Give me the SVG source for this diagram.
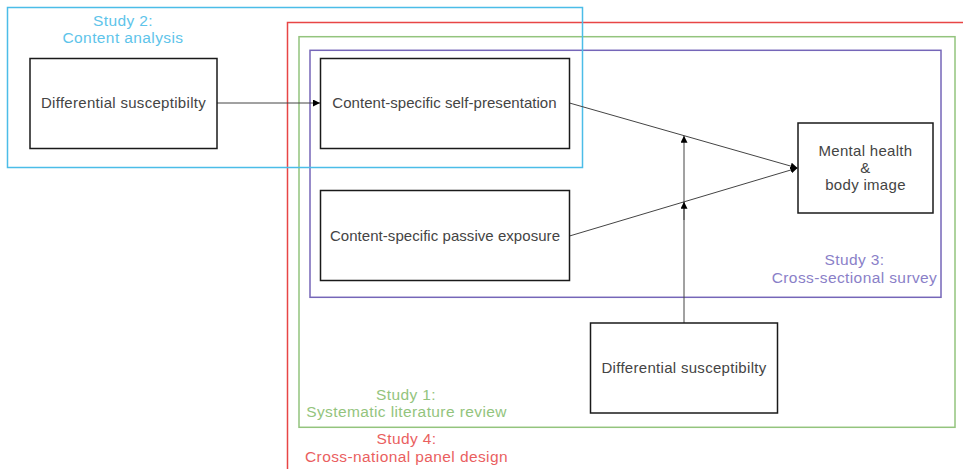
<svg xmlns="http://www.w3.org/2000/svg" width="963" height="469" viewBox="0 0 963 469">
  <defs>
    <style>
      .frame { fill: none; stroke-width: 1.5; }
      .node rect { fill: #ffffff; stroke: #1a1a1a; stroke-width: 1.5; }
      .node text { font-family: "Liberation Sans", Arial, sans-serif; font-size: 15px; letter-spacing: 0.3px; fill: #444444; text-anchor: middle; }
      .node text.tight { letter-spacing: 0.05px; }
      .label { font-family: "Liberation Sans", Arial, sans-serif; font-size: 15.5px; letter-spacing: 0.4px; text-anchor: middle; }
      .conn line { stroke: #444444; stroke-width: 1; fill: none; }
    </style>
    <marker id="arrow" viewBox="0 0 10 10" refX="10" refY="5" markerWidth="7" markerHeight="7" markerUnits="userSpaceOnUse" orient="auto">
      <path d="M0,0 L10,5 L0,10 z" fill="#000000"/>
    </marker>
  </defs>

  <rect width="963" height="469" fill="#ffffff"/>

  <!-- study frames -->
  <g id="study4">
    <path class="frame" stroke="#e84545" d="M287.5,470 V22.5 H965"/>
    <text class="label" fill="#ea5f5f" x="406.5" y="444">Study 4:</text>
    <text class="label" fill="#ea5f5f" x="406.5" y="461.5">Cross-national panel design</text>
  </g>
  <g id="study1">
    <rect class="frame" stroke="#93c47d" x="299" y="36.7" width="656" height="390.6"/>
    <text class="label" fill="#93c47d" x="406" y="399.5">Study 1:</text>
    <text class="label" fill="#93c47d" x="406.5" y="417">Systematic literature review</text>
  </g>
  <g id="study3">
    <rect class="frame" stroke="#7566b8" x="310" y="50.3" width="631" height="247"/>
    <text class="label" fill="#8a7fc8" x="854.5" y="265">Study 3:</text>
    <text class="label" fill="#8a7fc8" x="854.5" y="282.5">Cross-sectional survey</text>
  </g>
  <g id="study2">
    <rect class="frame" stroke="#4bbde8" x="7.5" y="7.5" width="575" height="160"/>
    <text class="label" fill="#5ec4ea" x="123" y="25.5">Study 2:</text>
    <text class="label" fill="#5ec4ea" x="123" y="43">Content analysis</text>
  </g>

  <!-- connectors -->
  <g id="connectors" class="conn">
    <line x1="217" y1="103" x2="320" y2="103" marker-end="url(#arrow)"/>
    <line x1="569.5" y1="103" x2="797.5" y2="168" marker-end="url(#arrow)"/>
    <line x1="569.5" y1="236" x2="797.5" y2="168" marker-end="url(#arrow)"/>
    <line x1="684" y1="323" x2="684" y2="135.8" marker-end="url(#arrow)"/>
    <line x1="684" y1="220" x2="684" y2="201.8" marker-end="url(#arrow)"/>
  </g>

  <!-- nodes -->
  <g id="node-susceptibility-a" class="node">
    <rect x="30" y="58.5" width="187" height="90"/>
    <text x="123.5" y="108">Differential susceptibilty</text>
  </g>
  <g id="node-self-presentation" class="node">
    <rect x="320.5" y="58.5" width="249" height="90"/>
    <text class="tight" x="444.5" y="108">Content-specific self-presentation</text>
  </g>
  <g id="node-passive-exposure" class="node">
    <rect x="320.5" y="190.5" width="249" height="90"/>
    <text class="tight" x="445" y="241">Content-specific passive exposure</text>
  </g>
  <g id="node-outcome" class="node">
    <rect x="798" y="123" width="135" height="90"/>
    <text x="865.5" y="156">Mental health</text>
    <text x="865.5" y="173">&amp;</text>
    <text x="865.5" y="190">body image</text>
  </g>
  <g id="node-susceptibility-b" class="node">
    <rect x="590.5" y="323" width="187" height="90"/>
    <text x="684" y="373">Differential susceptibilty</text>
  </g>
</svg>
